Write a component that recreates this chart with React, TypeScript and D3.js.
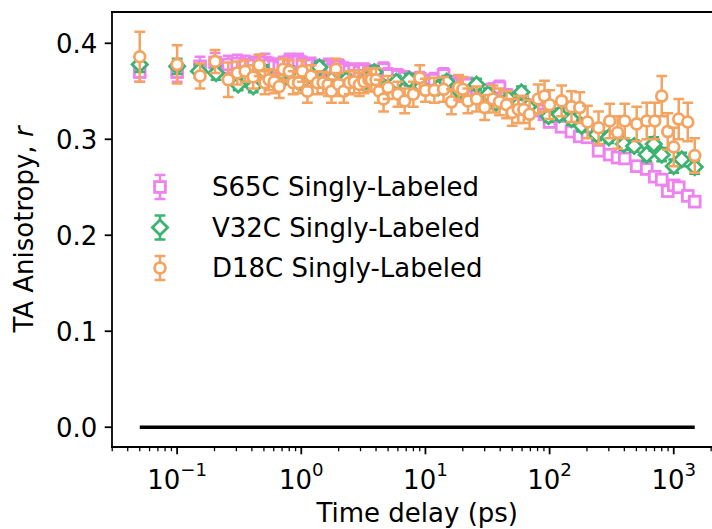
import React from "react";
import * as d3 from "d3";

// ---- Data ----
const timeGrid = [0.05, 0.1, 0.153, 0.202, 0.258, 0.305, 0.353, 0.41, 0.458, 0.51, 0.55, 0.605, 0.665, 0.716, 0.8, 0.86, 0.95, 1.02, 1.12, 1.2, 1.35, 1.5, 1.65, 1.75, 1.9, 2.0, 2.2, 2.44, 2.67, 2.94, 3.2, 3.5, 3.67, 4.0, 4.25, 4.6, 5.0, 6.0, 6.8, 8.0, 9.0, 10, 11.8, 14, 16.2, 18.5, 20, 22, 25.8, 30, 35, 39.5, 45, 50, 56, 62, 69, 81, 91, 100, 125, 150, 175, 202, 248, 305, 353, 403, 503, 606, 703, 800, 895, 1000, 1097, 1297, 1476];

const s65cValues = [0.370, 0.370, 0.376, 0.380, 0.378, 0.379, 0.378, 0.377, 0.379, 0.380, 0.377, 0.376, 0.375, 0.378, 0.381, 0.379, 0.381, 0.378, 0.376, 0.377, 0.374, 0.373, 0.376, 0.372, 0.374, 0.376, 0.373, 0.371, 0.372, 0.370, 0.372, 0.369, 0.370, 0.368, 0.369, 0.373, 0.367, 0.366, 0.364, 0.362, 0.363, 0.360, 0.362, 0.367, 0.359, 0.357, 0.356, 0.357, 0.353, 0.351, 0.352, 0.354, 0.346, 0.343, 0.338, 0.336, 0.334, 0.330, 0.326, 0.318, 0.313, 0.308, 0.303, 0.302, 0.288, 0.284, 0.281, 0.280, 0.272, 0.269, 0.261, 0.258, 0.246, 0.252, 0.250, 0.241, 0.235];
const s65cErrors = [0.010, 0.010, 0.010, 0.010, 0.009, 0.009, 0.009, 0.009, 0.009, 0.009, 0.008, 0.008, 0.008, 0.008, 0.008, 0.008, 0.008, 0.008, 0.008, 0.008, 0.008, 0.008, 0.008, 0.007, 0.007, 0.007, 0.007, 0.007, 0.007, 0.007, 0.007, 0.007, 0.007, 0.007, 0.007, 0.007, 0.007, 0.007, 0.007, 0.007, 0.007, 0.007, 0.007, 0.007, 0.007, 0.007, 0.007, 0.007, 0.006, 0.006, 0.006, 0.007, 0.006, 0.006, 0.006, 0.006, 0.005, 0.005, 0.005, 0.005, 0.005, 0.005, 0.005, 0.005, 0.005, 0.005, 0.005, 0.005, 0.005, 0.005, 0.005, 0.005, 0.005, 0.005, 0.005, 0.005, 0.005];

const v32cTimes = [0.05, 0.1, 0.15, 0.206, 0.31, 0.41, 0.5, 0.65, 0.8, 1.0, 1.4, 1.75, 2.3, 3.16, 3.88, 4.67, 5.83, 7.4, 9.3, 12.7, 14.8, 18.8, 25.8, 32, 37, 46.7, 59.3, 67.4, 98, 120, 150, 181, 239, 300, 397, 480, 606, 690, 800, 1000, 1160, 1476];
const v32cValues = [0.378, 0.376, 0.371, 0.369, 0.357, 0.355, 0.371, 0.357, 0.370, 0.359, 0.375, 0.362, 0.362, 0.359, 0.370, 0.354, 0.360, 0.362, 0.355, 0.354, 0.360, 0.350, 0.357, 0.347, 0.338, 0.342, 0.349, 0.334, 0.324, 0.326, 0.321, 0.314, 0.305, 0.302, 0.295, 0.293, 0.284, 0.295, 0.284, 0.272, 0.279, 0.271];
const v32cErrors = [0.008, 0.008, 0.007, 0.007, 0.006, 0.006, 0.006, 0.006, 0.006, 0.006, 0.006, 0.006, 0.006, 0.006, 0.006, 0.006, 0.006, 0.006, 0.006, 0.006, 0.006, 0.006, 0.006, 0.006, 0.006, 0.006, 0.006, 0.006, 0.006, 0.006, 0.006, 0.006, 0.006, 0.006, 0.006, 0.006, 0.007, 0.007, 0.007, 0.007, 0.007, 0.007];

const d18cValues = [0.386, 0.378, 0.366, 0.381, 0.362, 0.369, 0.371, 0.365, 0.377, 0.359, 0.362, 0.360, 0.355, 0.373, 0.371, 0.359, 0.359, 0.371, 0.350, 0.366, 0.359, 0.359, 0.357, 0.350, 0.373, 0.357, 0.350, 0.359, 0.360, 0.357, 0.360, 0.362, 0.362, 0.362, 0.350, 0.342, 0.354, 0.347, 0.340, 0.347, 0.364, 0.351, 0.351, 0.352, 0.339, 0.354, 0.352, 0.340, 0.342, 0.333, 0.342, 0.339, 0.336, 0.328, 0.331, 0.331, 0.326, 0.342, 0.345, 0.336, 0.340, 0.334, 0.333, 0.318, 0.312, 0.319, 0.307, 0.319, 0.316, 0.319, 0.319, 0.345, 0.308, 0.292, 0.321, 0.318, 0.283];
const d18cErrors = [0.026, 0.020, 0.013, 0.012, 0.018, 0.012, 0.011, 0.012, 0.011, 0.012, 0.011, 0.012, 0.012, 0.011, 0.011, 0.012, 0.011, 0.011, 0.012, 0.011, 0.012, 0.011, 0.012, 0.012, 0.011, 0.012, 0.012, 0.012, 0.012, 0.012, 0.012, 0.012, 0.012, 0.012, 0.012, 0.013, 0.012, 0.013, 0.013, 0.013, 0.013, 0.012, 0.013, 0.013, 0.013, 0.013, 0.013, 0.013, 0.013, 0.013, 0.014, 0.014, 0.014, 0.014, 0.014, 0.014, 0.015, 0.015, 0.016, 0.015, 0.016, 0.016, 0.016, 0.017, 0.017, 0.018, 0.017, 0.018, 0.018, 0.019, 0.019, 0.021, 0.019, 0.020, 0.021, 0.020, 0.018];

const seriesNames = ["S65C Singly-Labeled", "V32C Singly-Labeled", "D18C Singly-Labeled"];
const seriesColors = ["#EE82EE", "#3CB371", "#F4A460"];
const seriesMarkers = ["square", "diamond", "circle"];

const zeroLineTimes = [0.05, 1476];
const zeroLineValues = [0, 0];

const yTickValues = [0.0, 0.1, 0.2, 0.3, 0.4];
const xTickExponents = [-1, 0, 1, 2, 3];

// ---- Layout ----
const W = 712;
const H = 529;
const axLeft = 112;
const axRight = 722.5;
const axTop = 12;
const axBottom = 447;
const FONT = "DejaVu Sans, sans-serif";
const FS = 26;

function Marker({ kind, cx, cy, color }: { kind: string; cx: number; cy: number; color: string }) {
  const sw = 2.8;
  if (kind === "square") {
    const s = 10.8;
    return <rect x={cx - s / 2} y={cy - s / 2} width={s} height={s} fill="#fff" stroke={color} strokeWidth={sw} />;
  }
  if (kind === "diamond") {
    const r = 7.6;
    return <path d={`M${cx},${cy - r}L${cx + r},${cy}L${cx},${cy + r}L${cx - r},${cy}Z`} fill="#fff" stroke={color} strokeWidth={sw} strokeLinejoin="miter" />;
  }
  return <circle cx={cx} cy={cy} r={5.4} fill="#fff" stroke={color} strokeWidth={sw} />;
}

function ErrorBar({ cx, y1, y2, color }: { cx: number; y1: number; y2: number; color: string }) {
  const cap = 5.4;
  const lw = 2.5;
  return (
    <g stroke={color} strokeWidth={lw}>
      <line x1={cx} x2={cx} y1={y1} y2={y2} />
      <line x1={cx - cap} x2={cx + cap} y1={y1} y2={y1} />
      <line x1={cx - cap} x2={cx + cap} y1={y2} y2={y2} />
    </g>
  );
}

export default function App() {
  const allX = [...timeGrid, ...v32cTimes, ...zeroLineTimes];
  const lxMin = Math.log10(d3.min(allX)!);
  const lxMax = Math.log10(d3.max(allX)!);
  const lxPad = (lxMax - lxMin) * 0.05;
  const x = d3.scaleLog().domain([10 ** (lxMin - lxPad), 10 ** (lxMax + lxPad)]).range([axLeft, axRight]);

  const yMaxData = d3.max(d18cValues.map((v, i) => v + d18cErrors[i]))!;
  const yMinData = 0;
  const yPad = (yMaxData - yMinData) * 0.05;
  const y = d3.scaleLinear().domain([yMinData - yPad, yMaxData + yPad]).range([axBottom, axTop]);

  const series = [
    { t: timeGrid, v: s65cValues, e: s65cErrors },
    { t: v32cTimes, v: v32cValues, e: v32cErrors },
    { t: timeGrid, v: d18cValues, e: d18cErrors },
  ];

  const [dMin, dMax] = x.domain();
  const minorTicks: number[] = [];
  for (let e = -3; e <= 4; e++) {
    for (let m = 2; m <= 9; m++) {
      const v = m * 10 ** e;
      if (v >= dMin && v <= dMax) minorTicks.push(v);
    }
  }

  const zeroLine = d3.line<number>().x((d, i) => x(zeroLineTimes[i])).y((d) => y(d));

  return (
    <div style={{ position: "absolute", left: 0, top: 0 }}>
      <svg width={W} height={H} style={{ display: "block", background: "#fff" }} fontFamily={FONT}>
        <defs>
          <clipPath id="axclip">
            <rect x={axLeft} y={axTop} width={axRight - axLeft} height={axBottom - axTop} />
          </clipPath>
        </defs>

        {/* zero line */}
        <path d={zeroLine(zeroLineValues)!} stroke="#000" strokeWidth={3.6} fill="none" />

        {/* data series */}
        <g clipPath="url(#axclip)">
          {series.map((s, si) => (
            <g key={si}>
              {s.t.map((t, i) => (
                <g key={i}>
                  <ErrorBar cx={x(t)} y1={y(s.v[i] + s.e[i])} y2={y(s.v[i] - s.e[i])} color={seriesColors[si]} />
                  <Marker kind={seriesMarkers[si]} cx={x(t)} cy={y(s.v[i])} color={seriesColors[si]} />
                </g>
              ))}
            </g>
          ))}
        </g>

        {/* spines */}
        <line x1={axLeft} x2={axLeft} y1={axTop} y2={axBottom} stroke="#000" strokeWidth={1.8} strokeLinecap="square" />
        <line x1={axLeft} x2={W + 20} y1={axBottom} y2={axBottom} stroke="#000" strokeWidth={1.8} strokeLinecap="square" />
        <line x1={axLeft} x2={W + 20} y1={axTop} y2={axTop} stroke="#000" strokeWidth={1.8} strokeLinecap="square" />

        {/* y ticks */}
        {yTickValues.map((v) => (
          <g key={v}>
            <line x1={axLeft - 7.3} x2={axLeft} y1={y(v)} y2={y(v)} stroke="#000" strokeWidth={1.8} />
            <text x={axLeft - 14.6} y={y(v) + 9.4} textAnchor="end" fontSize={FS} fill="#000">
              {v.toFixed(1)}
            </text>
          </g>
        ))}

        {/* x ticks */}
        {minorTicks.map((v, i) => (
          <line key={i} x1={x(v)} x2={x(v)} y1={axBottom} y2={axBottom + 4.2} stroke="#000" strokeWidth={1.3} />
        ))}
        {xTickExponents.map((e) => (
          <g key={e}>
            <line x1={x(10 ** e)} x2={x(10 ** e)} y1={axBottom} y2={axBottom + 7.3} stroke="#000" strokeWidth={1.8} />
            <text x={x(10 ** e)} y={489} textAnchor="middle" fontSize={FS} fill="#000">
              <tspan>10</tspan>
              <tspan dy={-13} fontSize={18.2}>{e < 0 ? `\u2212${-e}` : `${e}`}</tspan>
            </text>
          </g>
        ))}

        {/* axis labels */}
        <text x={(axLeft + axRight) / 2} y={522} textAnchor="middle" fontSize={FS} fill="#000">
          Time delay (ps)
        </text>
        <text transform={`translate(33,${(axTop + axBottom) / 2}) rotate(-90)`} textAnchor="middle" fontSize={FS} fill="#000">
          TA Anisotropy, <tspan fontStyle="italic">r</tspan>
        </text>

        {/* legend */}
        {seriesNames.map((name, i) => {
          const cy = 187 + i * 40.5;
          return (
            <g key={name}>
              <ErrorBar cx={160} y1={cy - 12} y2={cy + 12} color={seriesColors[i]} />
              <Marker kind={seriesMarkers[i]} cx={160} cy={cy} color={seriesColors[i]} />
              <text x={212} y={cy + 9.4} fontSize={FS} fill="#000">
                {name}
              </text>
            </g>
          );
        })}
      </svg>
    </div>
  );
}
